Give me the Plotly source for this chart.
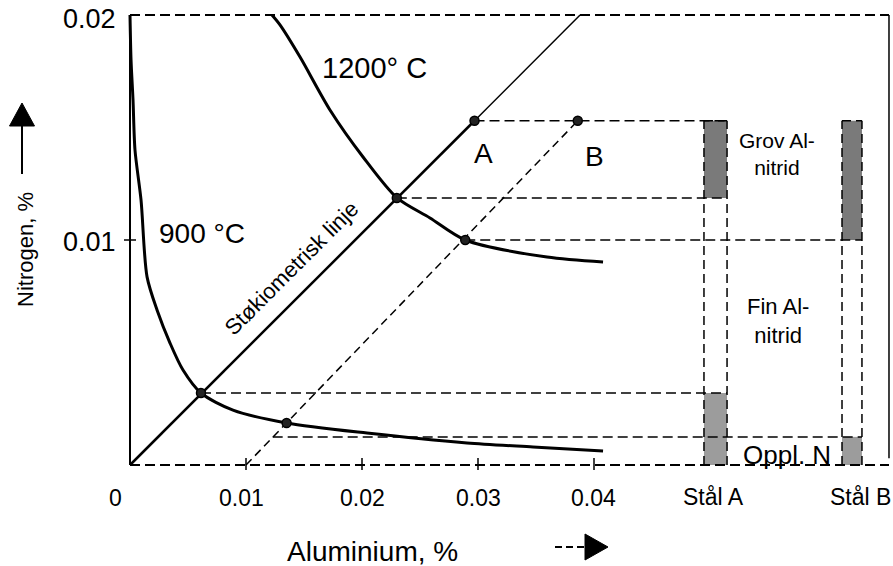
import plotly.graph_objects as go

# ---------------- data (Al %, N %) ----------------
curve_1200_al = [0.01224, 0.01293, 0.01466, 0.01724, 0.02009, 0.02302, 0.02586, 0.0289, 0.03595, 0.04078]
curve_1200_n = [0.0200, 0.01956, 0.01813, 0.01578, 0.01369, 0.01187, 0.01098, 0.0100, 0.00924, 0.00902]

curve_900_al = [0.0, 0.00009, 0.00026, 0.00043, 0.00095, 0.00147, 0.00233, 0.00345,
                0.00457, 0.00612, 0.00888, 0.0135, 0.02043, 0.02905, 0.03474, 0.04078]
curve_900_n = [0.0200, 0.0180, 0.01622, 0.0140, 0.01178, 0.00836, 0.00689, 0.00542,
               0.00422, 0.00320, 0.00244, 0.00187, 0.00142, 0.00098, 0.0008, 0.00062]

stoich_al = [0.0, 0.0297, 0.0388]
stoich_n = [0.0, 0.0153, 0.0200]

bline_al = [0.0100, 0.0386]
bline_n = [0.0, 0.0153]

point_al = [0.0297, 0.0386, 0.0230, 0.0289, 0.00612, 0.0135]
point_n = [0.0153, 0.0153, 0.01187, 0.0100, 0.0032, 0.00187]

h_levels = [0.0153, 0.01187, 0.0100, 0.0032, 0.00125]
h_start = [0.0297, 0.0230, 0.0289, 0.00612, 0.0123]
h_end = [0.05147, 0.05147, 0.0631, 0.05147, 0.0631]

steel_labels = ["Stål A", "Stål B"]
steel_left = [0.04948, 0.06138]
steel_right = [0.05147, 0.0631]
coarse_low = [0.01187, 0.0100]
coarse_high = [0.0153, 0.0153]
dissolved_low = [0.0, 0.0]
dissolved_high = [0.0032, 0.00125]

x_ticks = [0.0, 0.01, 0.02, 0.03, 0.04]
x_tick_text = ["0", "0.01", "0.02", "0.03", "0.04"]
y_ticks = [0.01, 0.02]
y_tick_text = ["0.01", "0.02"]

x_max = 0.06543
y_max = 0.02

# ---------------- layout helpers ----------------
W, H = 893, 566
def X(px):
    return (px - 130) / 11600.0
def Y(py):
    return (465 - py) / 22500.0

FONT = "Liberation Sans, Arial, sans-serif"
fig = go.Figure()

# bars
centers = [(l + r) / 2 for l, r in zip(steel_left, steel_right)]
widths = [r - l for l, r in zip(steel_left, steel_right)]
fig.add_trace(go.Bar(x=centers, y=[h - l for h, l in zip(coarse_high, coarse_low)],
                     base=coarse_low, width=widths, marker_color="#7a7a7a",
                     marker_line_width=0, hoverinfo="skip"))
fig.add_trace(go.Bar(x=centers, y=[h - l for h, l in zip(dissolved_high, dissolved_low)],
                     base=dissolved_low, width=widths, marker_color="#9c9c9c",
                     marker_line_width=0, hoverinfo="skip"))

# dashed bar outlines
ox, oy = [], []
for l, r, top in zip(steel_left, steel_right, coarse_high):
    ox += [l, l, None, r, r, None, l, r, None]
    oy += [0, top, None, 0, top, None, top, top, None]
fig.add_trace(go.Scatter(x=ox, y=oy, mode="lines",
                         line=dict(color="black", width=1.5, dash="9px,5px"), hoverinfo="skip"))

# horizontal dashed guide lines
hx, hy = [], []
for lv, s, e in zip(h_levels, h_start, h_end):
    hx += [s, e, None]
    hy += [lv, lv, None]
fig.add_trace(go.Scatter(x=hx, y=hy, mode="lines",
                         line=dict(color="black", width=1.5, dash="10px,5px"), hoverinfo="skip"))

# frame: dashed top & bottom, solid left & right
fig.add_trace(go.Scatter(x=[0, x_max, None, 0, x_max], y=[y_max, y_max, None, 0, 0], mode="lines",
                         line=dict(color="black", width=2, dash="10px,5px"), hoverinfo="skip"))
fig.add_trace(go.Scatter(x=[0, 0], y=[0, y_max], mode="lines",
                         line=dict(color="black", width=2), hoverinfo="skip"))
fig.add_trace(go.Scatter(x=[x_max, x_max], y=[0.0003, y_max], mode="lines",
                         line=dict(color="black", width=1.5), hoverinfo="skip"))

# tick marks
tx, ty = [], []
for v in x_ticks[1:]:
    tx += [v, v, None]
    ty += [Y(470), Y(458), None]
for v in y_ticks[:-1]:
    tx += [X(124), X(136), None]
    ty += [v, v, None]
fig.add_trace(go.Scatter(x=tx, y=ty, mode="lines", line=dict(color="black", width=1.5),
                         hoverinfo="skip"))

# stoichiometric line (thicker below A)
fig.add_trace(go.Scatter(x=stoich_al[:2], y=stoich_n[:2], mode="lines",
                         line=dict(color="black", width=2.5), hoverinfo="skip"))
fig.add_trace(go.Scatter(x=stoich_al[1:], y=stoich_n[1:], mode="lines",
                         line=dict(color="black", width=1.5), hoverinfo="skip"))

# line through B
fig.add_trace(go.Scatter(x=bline_al, y=bline_n, mode="lines",
                         line=dict(color="black", width=1.5, dash="8px,5px"), hoverinfo="skip"))

# solubility curves
fig.add_trace(go.Scatter(x=curve_1200_al, y=curve_1200_n, mode="lines",
                         line=dict(color="black", width=3, shape="spline", smoothing=0.8),
                         hoverinfo="skip"))
fig.add_trace(go.Scatter(x=curve_900_al, y=curve_900_n, mode="lines",
                         line=dict(color="black", width=3, shape="spline", smoothing=0.8),
                         hoverinfo="skip"))

# points
fig.add_trace(go.Scatter(x=point_al, y=point_n, mode="markers",
                         marker=dict(size=9, color="#222222", line=dict(color="black", width=1.5)),
                         hoverinfo="skip"))

# ---------------- annotations ----------------
ann = []
def txt(text, px, py, size, angle=0, xanchor="center", yanchor="middle"):
    ann.append(dict(text=text, x=X(px), y=Y(py), xref="x", yref="y", showarrow=False,
                    font=dict(family=FONT, size=size, color="black"), textangle=angle,
                    xanchor=xanchor, yanchor=yanchor))

xtick_px = [115, 241, 362, 478, 593]
for t, p in zip(x_tick_text, xtick_px):
    txt(t, p, 498, 23)
txt(y_tick_text[0], 118, 242, 27, xanchor="right")
txt(y_tick_text[1], 118, 19, 27, xanchor="right")

txt(steel_labels[0], 713, 497, 23)
txt(steel_labels[1], 860, 497, 23)

txt("1200° C", 374, 68, 29)
txt("900 °C", 202, 233, 28)
txt("A", 483, 153, 28)
txt("B", 594, 156, 28)
txt("Støkiometrisk linje", 291, 268, 22, angle=-45)
txt("Grov Al-<br>nitrid", 737, 154, 21, xanchor="left")
txt("Fin Al-<br>nitrid", 745, 321, 22, xanchor="left")
txt("Oppl. N", 787, 455, 26)
txt("Aluminium, %", 372, 551, 28)
txt("Nitrogen, %", 25, 250, 22, angle=-90)

# axis arrows
shapes = [
    dict(type="line", xref="x", yref="y", x0=X(22), x1=X(22), y0=Y(174), y1=Y(122),
         line=dict(color="black", width=2)),
    dict(type="path", xref="x", yref="y",
         path=f"M {X(22)},{Y(103)} L {X(9.5)},{Y(126)} L {X(34.5)},{Y(126)} Z",
         fillcolor="black", line=dict(color="black", width=1)),
    dict(type="line", xref="x", yref="y", x0=X(555), x1=X(588), y0=Y(547), y1=Y(547),
         line=dict(color="black", width=2, dash="7px,4px")),
    dict(type="path", xref="x", yref="y",
         path=f"M {X(608)},{Y(547)} L {X(585)},{Y(534)} L {X(585)},{Y(560)} Z",
         fillcolor="black", line=dict(color="black", width=1)),
]

fig.update_layout(
    width=W, height=H, autosize=False,
    margin=dict(l=0, r=0, t=0, b=0, pad=0),
    paper_bgcolor="white", plot_bgcolor="white",
    showlegend=False, barmode="overlay",
    xaxis=dict(range=[X(0), X(W)], visible=False, fixedrange=True),
    yaxis=dict(range=[Y(H), Y(0)], visible=False, fixedrange=True),
    annotations=ann, shapes=shapes,
)

fig.write_html("out.html")
